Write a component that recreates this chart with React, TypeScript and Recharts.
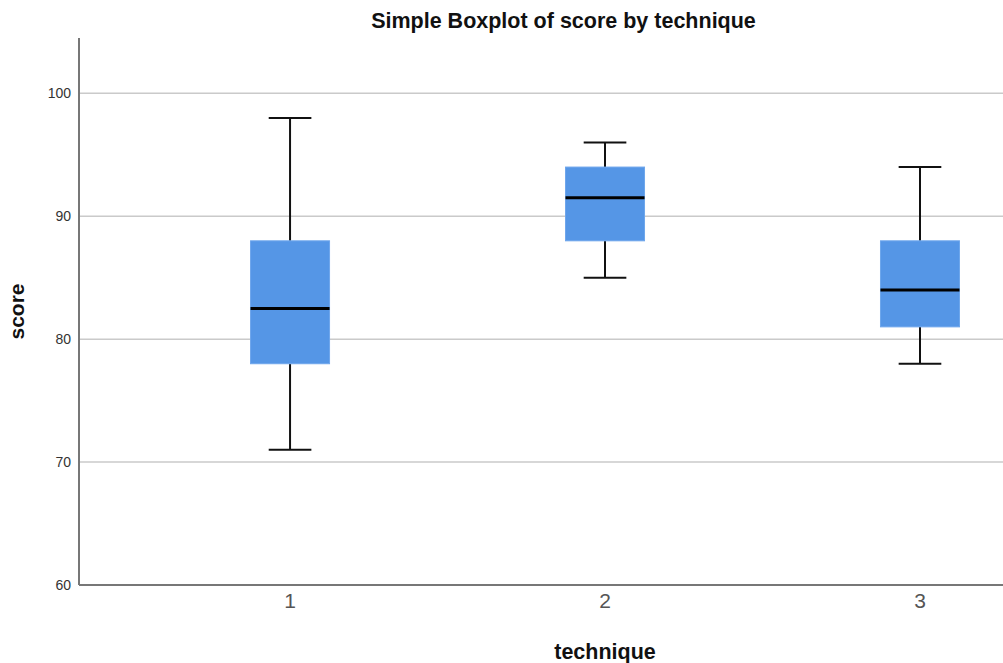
import { ComposedChart, Bar, XAxis, YAxis, CartesianGrid } from 'recharts'

const techniques = [1, 2, 3]
const minScores = [71, 85, 78]
const q1Scores = [78, 88, 81]
const medianScores = [82.5, 91.5, 84]
const q3Scores = [88, 94, 88]
const maxScores = [98, 96, 94]
const yTicks = [60, 70, 80, 90, 100]
const gridValues = [70, 80, 90, 100]

const data = techniques.map((t, i) => ({
  technique: t,
  range: [minScores[i], maxScores[i]],
  min: minScores[i],
  q1: q1Scores[i],
  median: medianScores[i],
  q3: q3Scores[i],
  max: maxScores[i],
}))

const font = '"Liberation Sans", Arial, sans-serif'

// the bar spans min..max, so its own height gives the px-per-unit of the y scale
function BoxShape(props: any) {
  const { x, y, width, height, payload } = props
  if (payload == null || !height) return null
  const { min, q1, median, q3, max } = payload
  const k = height / (max - min)
  const yOf = (v: number) => y + (max - v) * k
  const cx = x + width / 2
  const cap = width * 0.27
  return (
    <g>
      <line x1={cx} x2={cx} y1={yOf(max)} y2={yOf(q3)} stroke="#111" strokeWidth={2} />
      <line x1={cx} x2={cx} y1={yOf(q1)} y2={yOf(min)} stroke="#111" strokeWidth={2} />
      <line x1={cx - cap} x2={cx + cap} y1={yOf(max)} y2={yOf(max)} stroke="#111" strokeWidth={2} />
      <line x1={cx - cap} x2={cx + cap} y1={yOf(min)} y2={yOf(min)} stroke="#111" strokeWidth={2} />
      <rect x={x} y={yOf(q3)} width={width} height={yOf(q1) - yOf(q3)} fill="#5596e6" stroke="#6ea6ec" strokeWidth={1} />
      <line x1={x} x2={x + width} y1={yOf(median)} y2={yOf(median)} stroke="#000" strokeWidth={3} />
    </g>
  )
}

export default function App() {
  return (
    <div style={{ position: 'relative', width: 1003, height: 663, overflow: 'hidden', background: '#fff' }}>
      <style>{'body{margin:0}'}</style>
      <ComposedChart
        width={1140}
        height={663}
        data={data}
        margin={{ top: 38, right: 9, bottom: 0, left: 0 }}
      >
        <CartesianGrid vertical={false} horizontalValues={gridValues} stroke="#cacaca" strokeWidth={1.5} />
        <XAxis
          type="number"
          dataKey="technique"
          domain={[0.33, 3.67]}
          ticks={techniques}
          allowDataOverflow
          height={78}
          tickLine={false}
          axisLine={{ stroke: '#777', strokeWidth: 2 }}
          tick={{ fontSize: 21, fill: '#555', fontFamily: font }}
        />
        <YAxis
          type="number"
          domain={[60, 104.5]}
          ticks={yTicks}
          allowDataOverflow
          width={79}
          tickLine={false}
          axisLine={{ stroke: '#777', strokeWidth: 2 }}
          tick={{ fontSize: 14, fill: '#333', fontFamily: font }}
        />
        <Bar dataKey="range" barSize={79} shape={<BoxShape />} isAnimationActive={false} />
      </ComposedChart>
      <svg width={1003} height={663} style={{ position: 'absolute', left: 0, top: 0, pointerEvents: 'none' }}>
        <text x={563.5} y={28} textAnchor="middle" fontFamily={font} fontWeight="bold" fontSize={21.5} fill="#111">
          Simple Boxplot of score by technique
        </text>
        <text x={605} y={659} textAnchor="middle" fontFamily={font} fontWeight="bold" fontSize={21.5} fill="#111">
          technique
        </text>
        <text transform="translate(24,311.5) rotate(-90)" textAnchor="middle" fontFamily={font} fontWeight="bold" fontSize={21} fill="#111">
          score
        </text>
      </svg>
    </div>
  )
}
